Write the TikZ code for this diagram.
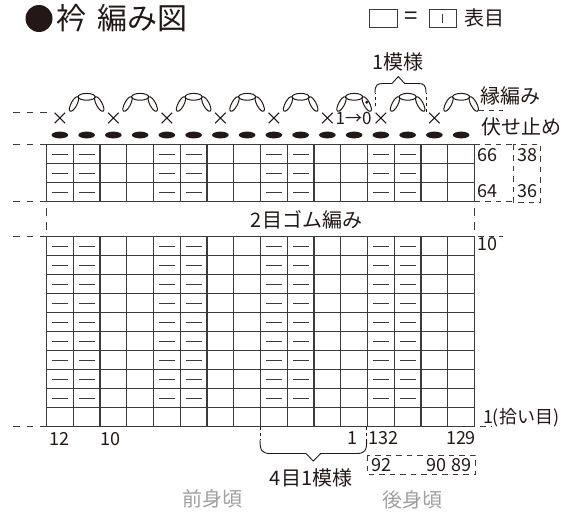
\documentclass[tikz,border=0pt]{standalone}
\usepackage{fontspec}
\setmainfont{Noto Sans CJK JP}
\definecolor{ink}{HTML}{231815}
\definecolor{gline}{HTML}{3E3A39}
\definecolor{soft}{HTML}{9FA0A0}
\begin{document}
\begin{tikzpicture}[x=1pt,y=-1pt,
  lbl/.style={inner sep=0pt, outer sep=0pt, text=ink, font=\fontsize{20}{24}\selectfont},
  numl/.style={inner sep=0pt, outer sep=0pt, text=ink, font=\fontsize{18}{22}\selectfont},
  softl/.style={lbl, text=soft},
  gridln/.style={draw=gline, line width=1.05pt},
  purlmark/.style={draw=gline, line width=1pt},
  guide/.style={draw=gline, line width=0.9pt, dash pattern=on 6.7pt off 6.7pt},
  guideshort/.style={draw=gline, line width=0.9pt, dash pattern=on 5.5pt off 5pt},
  bracepath/.style={draw=ink, line width=0.9pt},
  stitch/.style={draw=ink, line width=1pt},
  legbox/.style={draw=gline, line width=0.9pt},
]
\useasboundingbox (0,0) rectangle (581,514);
% ---------- title ----------
\node[circle, fill=ink, minimum size=27pt, inner sep=0pt] (titledot) at (39,18.5) {};
\node[lbl, font=\fontsize{30}{34}\selectfont] (title1) at (71,18.5) {衿};
\node[lbl, font=\fontsize{30}{34}\selectfont] (title2) at (142.5,18.5) {編み図};
% ---------- legend ----------
\node[legbox, minimum width=28pt, minimum height=17.5pt, inner sep=0pt] (leg1) at (383,18.2) {};
\node[lbl, font=\fontsize{24}{26}\selectfont] (legeq) at (411.5,18.5) {=};
\node[legbox, minimum width=26.5pt, minimum height=17.5pt, inner sep=0pt] (leg2) at (442.7,18.2) {};
\draw[gline, line width=0.9pt] (442.7,13.5) -- (442.7,23);
\node[lbl] (legtxt) at (484,18) {表目};
% ---------- grid ----------
\foreach \c in {0,...,16} {
  \draw[gridln] ({46.5+26.75*\c},144.5) -- ({46.5+26.75*\c},201.5);
  \draw[gridln] ({46.5+26.75*\c},236.5) -- ({46.5+26.75*\c},426.5);
}
\foreach \r in {0,...,3} \draw[gridln] (46.5,{144.5+19*\r}) -- (474.5,{144.5+19*\r});
\foreach \r in {0,...,10} \draw[gridln] (46.5,{236.5+19*\r}) -- (474.5,{236.5+19*\r});
\foreach \c in {0,1,4,5,8,9,12,13} {
  \foreach \r in {0,1,2} \draw[purlmark] ({46.5+26.75*\c+5.5},{154+19*\r}) -- ++(15.75,0);
  \foreach \r in {0,...,8} \draw[purlmark] ({46.5+26.75*\c+5.5},{246+19*\r}) -- ++(15.75,0);
}
% ---------- bind off ----------
\foreach \c in {0,...,15} \fill[ink] ({46.5+26.75*(\c+0.5)},135) ellipse [x radius=8.3, y radius=3.4];
% ---------- edging ----------
\foreach \c in {0,2,...,14} {
  \pgfmathsetmacro\cx{46.5+26.75*(\c+0.5)}
  \draw[stitch] (\cx-5.3,112.7) -- (\cx+5.3,123.3) (\cx-5.3,123.3) -- (\cx+5.3,112.7);
}
\foreach \c in {1,3,...,15} {
  \pgfmathsetmacro\cx{46.5+26.75*(\c+0.5)}
  \draw[stitch] (\cx,96.8) ellipse [x radius=8.5, y radius=3.4];
  \draw[stitch, shift={(\cx-12.6,104)}, rotate=62] (0,0) ellipse [x radius=8.2, y radius=2.9];
  \draw[stitch, shift={(\cx+12.6,104)}, rotate=-62] (0,0) ellipse [x radius=8.2, y radius=2.9];
}
\fill[ink] (366.7,102.3) circle (1.6);
\node[inner sep=0pt, text=ink, font=\fontsize{17}{20}\selectfont] (startlbl) at (353.5,118) {1→0};
% ---------- top brace ----------
\coordinate (tbl) at (375,106);
\coordinate (tbr) at (426,111.5);
\draw[bracepath, dash pattern=on 3pt off 3pt] (tbl) -- (375,93);
\draw[bracepath, dash pattern=on 3pt off 3pt] (tbr) -- (426,93);
\draw[bracepath] (375,93) .. controls (375,85) and (377,83.5) .. (383,83.5) -- (392,83.5) -- (398.3,76.5) -- (404.6,83.5) -- (418,83.5) .. controls (424,83.5) and (426,85) .. (426,93);
\node[lbl] (patlbl) at (398.3,62) {1模様};
% ---------- left guides ----------
\draw[guide] (13.3,112) -- (50,112);
\draw[guide] (13.3,144.5) -- (46.5,144.5);
\draw[guide] (13.3,201.5) -- (46.5,201.5);
\draw[guide] (13.3,236.5) -- (46.5,236.5);
\draw[guide] (13.3,426.5) -- (46.5,426.5);
\draw[gline, line width=0.9pt, dash pattern=on 8pt off 6pt] (46.5,208) -- (46.5,230);
\draw[gline, line width=0.9pt, dash pattern=on 8pt off 6pt] (474.5,208) -- (474.5,230);
% ---------- right guides ----------
\draw[guideshort] (478,110) -- (503,110);
\draw[guideshort] (474.5,144.5) -- (513.3,144.5);
\draw[guideshort] (474.5,201.5) -- (513.3,201.5);
\draw[guideshort] (478,236.5) -- (503,236.5);
\draw[guideshort] (480,426.5) -- (491,426.5);
\draw[guideshort] (513.3,144.5) rectangle (540.7,202.5);
% ---------- right labels ----------
\node[lbl] (edgelbl) at (510.8,96) {縁編み};
\node[lbl] (bolbl) at (521.3,127) {伏せ止め};
\node[numl] (r66) at (487,155) {66};
\node[numl] (r64) at (487,191) {64};
\node[numl] (r38) at (527.5,155) {38};
\node[numl] (r36) at (527.5,191) {36};
\node[numl] (r10) at (487.5,244) {10};
\node[numl, anchor=west] (r1) at (483,418) {1(拾い目)};
\node[lbl] (ribl) at (306.5,219.5) {2目ゴム編み};
% ---------- bottom labels ----------
\node[numl] (c12) at (59.5,439) {12};
\node[numl] (c10) at (110.5,439) {10};
\node[numl] (c1) at (352,438) {1};
\node[numl] (c132) at (383.5,438) {132};
\node[numl] (c129) at (461,438) {129};
\draw[guideshort] (367,455) rectangle (475,474.5);
\node[numl] (b92) at (381,465) {92};
\node[numl] (b90) at (436,465) {90};
\node[numl] (b89) at (461,465) {89};
\coordinate (bbl) at (260,426.5);
\coordinate (bbr) at (366.7,426.5);
\draw[bracepath, dash pattern=on 3pt off 3pt] (bbl) -- (260,440);
\draw[bracepath, dash pattern=on 3pt off 3pt] (bbr) -- (366.7,440);
\draw[bracepath] (260,440) .. controls (260,451) and (262,453.5) .. (271,453.5) -- (306,453.5) -- (313.3,461) -- (320.6,453.5) -- (356,453.5) .. controls (365,453.5) and (366.7,451) .. (366.7,440);
\node[lbl] (replbl) at (311,478) {4目1模様};
\node[softl] (front) at (212.5,499) {前身頃};
\node[softl] (back) at (412.5,500) {後身頃};
\end{tikzpicture}
\end{document}
